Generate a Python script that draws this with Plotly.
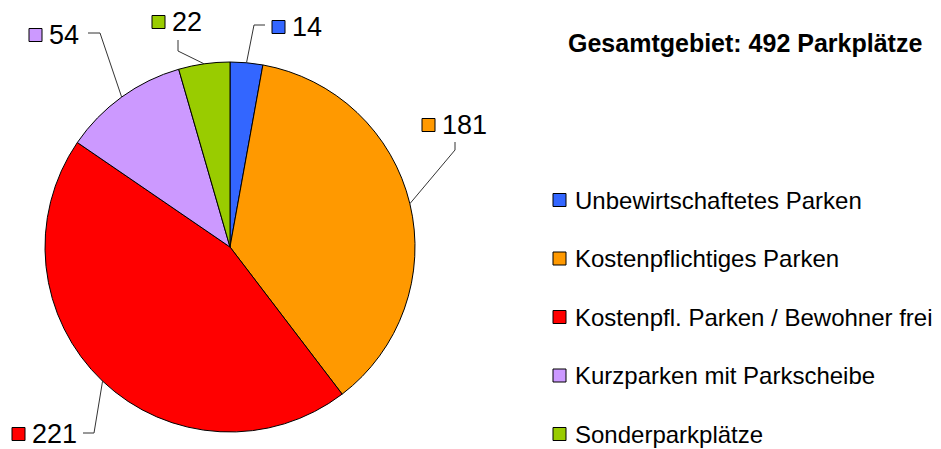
import math
import plotly.graph_objects as go

# ---- data ----
categories = ["Unbewirtschaftetes Parken", "Kostenpflichtiges Parken",
              "Kostenpfl. Parken / Bewohner frei", "Kurzparken mit Parkscheibe",
              "Sonderparkplätze"]
values = [14, 181, 221, 54, 22]
colors = ["#3366ff", "#ff9900", "#ff0000", "#cc99ff", "#99cc00"]
title_text = "Gesamtgebiet: 492 Parkplätze"

# ---- layout constants (pixels of the 941x449 window) ----
W, H = 941, 449
OFF = 8                      # default page margin around the plot div
FW, FH = W - OFF, H - OFF    # figure size
CX, CY, R = 230, 247, 185
FONT = "Liberation Sans, Arial, sans-serif"

# label placement: elbow point, line end, square left x, square centre y
label_layout = [
    dict(elbow=(254, 25), end=(265, 25), sq=(272, 27)),
    dict(elbow=(455, 150), end=(455, 142), sq=(422, 125)),
    dict(elbow=(94, 433), end=(83, 433), sq=(12, 434)),
    dict(elbow=(100, 33), end=(88, 33), sq=(29, 35)),
    dict(elbow=(178, 51), end=(178, 40), sq=(152, 22)),
]

def px(x):
    return (x - OFF) / FW

def py(y):
    return 1 - (y - OFF) / FH

fig = go.Figure(go.Pie(
    labels=categories, values=values, sort=False, direction="clockwise",
    rotation=0, textinfo="none", hoverinfo="label+value",
    marker=dict(colors=colors, line=dict(color="black", width=1)),
    domain=dict(x=[px(CX - R), px(CX + R)], y=[py(CY + R), py(CY - R)]),
    showlegend=False,
))

shapes = []
annotations = []
total = sum(values)
cum = 0
SQ = 13
for v, c, lay in zip(values, colors, label_layout):
    mid = (cum + v / 2) / total * 2 * math.pi
    cum += v
    sx = CX + R * math.sin(mid)
    sy = CY - R * math.cos(mid)
    ex, ey = lay["elbow"]
    tx, ty = lay["end"]
    shapes.append(dict(type="path", xref="paper", yref="paper",
                       path=f"M {px(sx)} {py(sy)} L {px(ex)} {py(ey)} L {px(tx)} {py(ty)}",
                       line=dict(color="#333333", width=1)))
    qx, qy = lay["sq"]
    shapes.append(dict(type="rect", xref="paper", yref="paper",
                       x0=px(qx), x1=px(qx + SQ), y0=py(qy - SQ / 2), y1=py(qy + SQ / 2),
                       fillcolor=c, line=dict(color="black", width=1)))
    annotations.append(dict(x=px(qx + SQ + 5), y=py(qy), xref="paper", yref="paper",
                            text=str(v), showarrow=False, xanchor="left", yanchor="middle",
                            font=dict(family=FONT, size=27, color="black")))

# legend
LX = 553
for i, (name, c) in enumerate(zip(categories, colors)):
    ly = 200 + 58.5 * i
    shapes.append(dict(type="rect", xref="paper", yref="paper",
                       x0=px(LX), x1=px(LX + SQ), y0=py(ly - SQ / 2), y1=py(ly + SQ / 2),
                       fillcolor=c, line=dict(color="black", width=1)))
    annotations.append(dict(x=px(LX + SQ + 7), y=py(ly), xref="paper", yref="paper",
                            text=name, showarrow=False, xanchor="left", yanchor="middle",
                            font=dict(family=FONT, size=24, color="black")))

annotations.append(dict(x=px(566), y=py(43), xref="paper", yref="paper",
                        text="<b>" + title_text + "</b>", showarrow=False,
                        xanchor="left", yanchor="middle",
                        font=dict(family=FONT, size=25, color="black")))

fig.update_layout(width=FW, height=FH, margin=dict(l=0, r=0, t=0, b=0),
                  paper_bgcolor="white", plot_bgcolor="white",
                  shapes=shapes, annotations=annotations)

fig.write_html("out.html")
